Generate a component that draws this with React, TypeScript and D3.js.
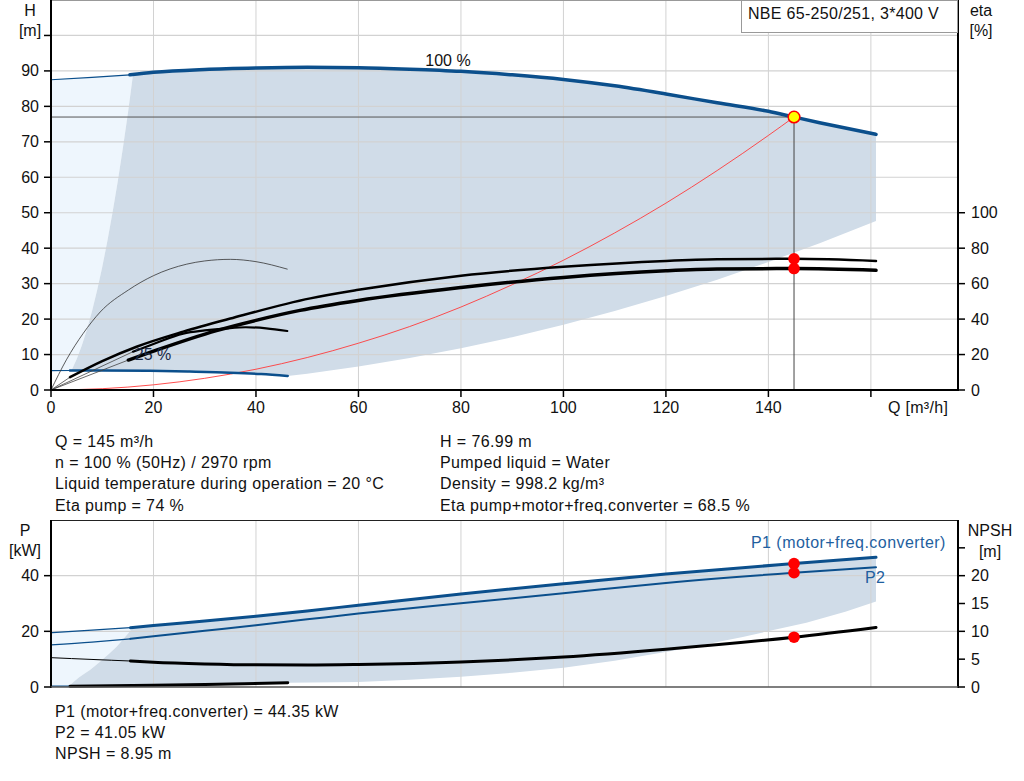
import { useEffect, useRef } from 'react';
import * as d3 from 'd3';

type Pt = [number, number];

// axis ticks
const flowTicks = [0, 20, 40, 60, 80, 100, 120, 140, 160];
const flowTickLabels = ['0', '20', '40', '60', '80', '100', '120', '140', ''];
const headTicks = [0, 10, 20, 30, 40, 50, 60, 70, 80, 90, 100];
const headTickLabels = ['0', '10', '20', '30', '40', '50', '60', '70', '80', '90', ''];
const etaTicks = [0, 20, 40, 60, 80, 100];
const powerTicks = [0, 20, 40];
const powerGrid = [20, 40];
const npshTicks = [0, 5, 10, 15, 20, 25];
const npshTickLabels = ['0', '5', '10', '15', '20', ''];

// head curves [Q m3/h, H m]
const head100Ext: Pt[] = [[0, 87.5], [8, 88.2], [15.4, 88.9]];
const head100: Pt[] = [
  [15.4, 88.9], [20, 89.6], [30, 90.4], [40, 90.8], [50, 91.0], [60, 90.9], [70, 90.5],
  [80, 89.9], [90, 88.9], [100, 87.6], [110, 85.8], [120, 83.5], [130, 81.0], [140, 78.6],
  [145, 76.99], [150, 75.4], [161, 72.1]
];
const head25Ext: Pt[] = [[0, 5.45], [3.7, 5.5]];
const head25: Pt[] = [[3.7, 5.5], [10, 5.5], [19.3, 5.4], [27, 5.2], [35, 4.9], [41, 4.5], [46.2, 3.95]];
const systemCurve: Pt[] = [
  [0, 0], [10, 0.37], [20, 1.46], [30, 3.3], [40, 5.86], [50, 9.16], [60, 13.2], [70, 17.9],
  [80, 23.4], [90, 29.7], [100, 36.6], [110, 44.3], [120, 52.7], [130, 61.9], [140, 71.8], [145, 76.99]
];
const areaLeft: Pt[] = [[4.0, 5.5], [5, 8.7], [6, 12.5], [7, 17], [8, 22.2], [9, 28.1], [10, 34.7], [11, 42], [12, 50], [13, 58.6], [14, 68], [15, 78], [16, 88.95]];
const areaLow: Pt[] = [
  [46.2, 3.95], [50, 4.6], [60, 6.6], [70, 9.0], [80, 11.8], [90, 14.9], [100, 18.4],
  [110, 22.3], [120, 26.5], [130, 31.1], [140, 36.1], [150, 41.4], [161, 47.7]
];

// efficiency curves [Q, eta %]
const etaPump100Ext: Pt[] = [[0, 0], [3.7, 7.2]];
const etaPump100: Pt[] = [
  [3.7, 7.2], [10, 16.3], [16.7, 24.4], [25.8, 32.9], [35, 40.3], [50.6, 51.7], [60, 56.5],
  [80, 64.5], [100, 69.5], [120, 72.8], [130, 73.7], [145, 74.0], [161, 72.8]
];
const etaTotal100Ext: Pt[] = [[0, 0], [15.1, 16.9]];
const etaTotal100: Pt[] = [
  [15.1, 16.9], [20, 21.9], [32.3, 33.5], [40, 39.3], [48.6, 44.9], [60, 50.5], [80, 57.8],
  [100, 63.5], [120, 67.2], [130, 68.2], [145, 68.5], [161, 67.5]
];
const etaPump25: Pt[] = [
  [0, 0], [3, 17], [6.3, 32], [9.6, 44], [15.1, 56.4], [20, 64.5], [26.5, 71], [30, 72.8],
  [35, 73.7], [40, 72.4], [46.1, 68.2]
];
const etaTotal25Ext: Pt[] = [[0, 0], [16, 21.6]];
const etaTotal25: Pt[] = [
  [16, 21.6], [20, 26], [25.8, 31.8], [30, 33.6], [34.3, 34.8], [38, 35.4], [42, 34.8], [46.1, 33.3]
];

// power curves [Q, kW] and NPSH [Q, m]
const p1Ext: Pt[] = [[0, 19.5], [8, 20.4], [15.5, 21.3]];
const p1: Pt[] = [
  [15.5, 21.3], [20, 22.1], [30, 23.7], [40, 25.4], [50, 27.3], [60, 29.4], [80, 33.4],
  [100, 37.1], [120, 40.6], [145, 44.35], [161, 46.6]
];
const p2Ext: Pt[] = [[0, 15.1], [8, 16.1], [15.5, 17.3]];
const p2: Pt[] = [
  [15.5, 17.3], [20, 18.2], [30, 20.2], [40, 22.2], [50, 24.3], [60, 26.4], [80, 30.1],
  [100, 33.7], [120, 37.4], [145, 41.05], [161, 43.0]
];
const power25Ext: Pt[] = [[0, 0.3], [3.7, 0.3]];
const power25: Pt[] = [[3.7, 0.3], [20, 0.6], [35, 1.1], [46.2, 1.5]];
const npshExt: Pt[] = [[0, 5.27], [8, 4.95], [15.5, 4.67]];
const npsh: Pt[] = [
  [15.5, 4.67], [20, 4.45], [30, 4.15], [40, 3.98], [50, 3.95], [60, 4.05], [80, 4.5],
  [100, 5.4], [120, 6.8], [145, 8.95], [161, 10.7]
];
const powerAreaLeft: Pt[] = [[3.5, 0.3], [4.5, 2.0], [5.5, 3.5], [6.5, 4.8], [7.6, 6.1], [8.5, 7.5], [9.5, 9.0], [10.5, 10.6], [11.5, 12.2], [12.8, 14.5], [14, 17.0], [15, 19.1], [16, 21.4]];
const powerAreaLow: Pt[] = [
  [46.2, 1.5], [60, 1.8], [70, 2.6], [80, 3.7], [90, 5.1], [100, 6.9], [110, 9.4],
  [122.7, 13.5], [135, 18.0], [147.4, 23.1], [155, 27.0], [161, 30.7]
];

// duty point
const dutyQ = 145;
const dutyH = 76.99;
const dutyEta = [74, 68.5];
const dutyPower = [44.35, 41.05];
const dutyNpsh = 8.95;

const infoLeft = ['Q = 145 m³/h', 'n = 100 % (50Hz) / 2970 rpm', 'Liquid temperature during operation = 20 °C', 'Eta pump = 74 %'];
const infoRight = ['H = 76.99 m', 'Pumped liquid = Water', 'Density = 998.2 kg/m³', 'Eta pump+motor+freq.converter = 68.5 %'];
const infoPower = ['P1 (motor+freq.converter) = 44.35 kW', 'P2 = 41.05 kW', 'NPSH = 8.95 m'];

const BLUE = '#0b4f8c';
const SHADE = '#d0dce8';
const LIGHT = '#eef6fd';
const GRID = '#d2d2d2';
const FONT = '"Liberation Sans", Arial, sans-serif';

export default function App() {
  const svgRef = useRef<SVGSVGElement>(null);

  useEffect(() => {
    if (!svgRef.current) return;
    const svg = d3.select(svgRef.current);
    svg.selectAll('*').remove();

    const x = d3.scaleLinear().domain([0, 177]).range([51, 958]);
    const yHead = d3.scaleLinear().domain([0, 110]).range([390, 0]);
    const yEta = d3.scaleLinear().domain([0, 220]).range([390, 0]);
    const yPower = d3.scaleLinear().domain([0, 60]).range([687, 520]);
    const yNpsh = d3.scaleLinear().domain([0, 30]).range([687, 520]);

    const lineFor = (ys: d3.ScaleLinear<number, number>) =>
      d3.line<Pt>().x((d) => x(d[0])).y((d) => ys(d[1])).curve(d3.curveMonotoneX);
    const polyFor = (ys: d3.ScaleLinear<number, number>) =>
      d3.line<Pt>().x((d) => x(d[0])).y((d) => ys(d[1]));

    const text = (tx: number, ty: number, s: string, anchor = 'start', fill = '#111', size = 16, spacing = 0) =>
      svg.append('text')
        .attr('x', tx).attr('y', ty)
        .attr('text-anchor', anchor)
        .attr('fill', fill)
        .style('font-family', FONT)
        .style('font-size', `${size}px`)
        .style('letter-spacing', `${spacing}px`)
        .text(s);

    const path = (data: Pt[], ys: d3.ScaleLinear<number, number>, stroke: string, width: number) =>
      svg.append('path')
        .attr('d', lineFor(ys)(data))
        .attr('fill', 'none')
        .attr('stroke', stroke)
        .attr('stroke-width', width)
        .attr('stroke-linecap', 'round');

    // ---------- top chart ----------
    svg.append('path')
      .attr('d', polyFor(yHead)([...head100Ext, ...areaLeft.slice().reverse(), ...head25Ext.slice().reverse()]) + 'Z')
      .attr('fill', LIGHT);
    svg.append('path')
      .attr('d', polyFor(yHead)([
        ...areaLeft,
        ...head100.filter((d) => d[0] > 16),
        ...areaLow.slice().reverse(),
        ...head25.filter((d) => d[0] > 4).reverse()
      ]) + 'Z')
      .attr('fill', SHADE);

    flowTicks.slice(1).forEach((q) => {
      svg.append('line').attr('x1', x(q)).attr('x2', x(q)).attr('y1', 0).attr('y2', 390)
        .attr('stroke', GRID).attr('stroke-width', 1);
    });
    headTicks.slice(1).forEach((h) => {
      svg.append('line').attr('x1', 51).attr('x2', 958).attr('y1', yHead(h)).attr('y2', yHead(h))
        .attr('stroke', GRID).attr('stroke-width', 1.2);
    });

    // duty lines
    svg.append('line').attr('x1', 51).attr('x2', x(dutyQ)).attr('y1', yHead(dutyH)).attr('y2', yHead(dutyH))
      .attr('stroke', '#555').attr('stroke-width', 1);
    svg.append('line').attr('x1', x(dutyQ)).attr('x2', x(dutyQ)).attr('y1', yHead(dutyH)).attr('y2', 390)
      .attr('stroke', '#444').attr('stroke-width', 1);

    path(systemCurve, yHead, '#ff3b3b', 0.9);

    path(head100Ext, yHead, BLUE, 1.2);
    path(head100, yHead, BLUE, 3.5);
    path(head25Ext, yHead, BLUE, 1.2);
    path(head25, yHead, BLUE, 2.5);

    path(etaPump25, yEta, '#333', 0.8);
    path(etaPump100Ext, yEta, '#444', 0.8);
    path(etaTotal100Ext, yEta, '#444', 0.8);
    path(etaTotal25Ext, yEta, '#444', 0.8);
    path(etaTotal25, yEta, '#000', 2.2);
    path(etaPump100, yEta, '#000', 2.5);
    path(etaTotal100, yEta, '#000', 3.5);

    text(448, 66, '100 %', 'middle', '#111');
    text(153, 360, '25 %', 'middle', '#1a2a48');

    dutyEta.forEach((e) => {
      svg.append('circle').attr('cx', x(dutyQ)).attr('cy', yEta(e)).attr('r', 5.8).attr('fill', '#ff0000');
    });
    svg.append('circle').attr('cx', x(dutyQ)).attr('cy', yHead(dutyH)).attr('r', 5.8)
      .attr('fill', '#ffff00').attr('stroke', '#ff0000').attr('stroke-width', 1.5);

    // frame and axes
    svg.append('line').attr('x1', 51).attr('x2', 958).attr('y1', 0.5).attr('y2', 0.5).attr('stroke', '#999');
    svg.append('line').attr('x1', 51).attr('x2', 51).attr('y1', 0).attr('y2', 391).attr('stroke', '#000').attr('stroke-width', 2);
    svg.append('line').attr('x1', 958).attr('x2', 958).attr('y1', 0).attr('y2', 391).attr('stroke', '#000').attr('stroke-width', 2);
    svg.append('line').attr('x1', 50).attr('x2', 959).attr('y1', 390).attr('y2', 390).attr('stroke', '#000').attr('stroke-width', 2);

    headTicks.forEach((h, i) => {
      svg.append('line').attr('x1', 44).attr('x2', 51).attr('y1', yHead(h)).attr('y2', yHead(h)).attr('stroke', '#000').attr('stroke-width', 1.5);
      if (headTickLabels[i]) text(39, yHead(h) + 5.5, headTickLabels[i], 'end');
    });
    etaTicks.forEach((e) => {
      svg.append('line').attr('x1', 958).attr('x2', 965).attr('y1', yEta(e)).attr('y2', yEta(e)).attr('stroke', '#000').attr('stroke-width', 1.5);
      text(971, yEta(e) + 5.5, String(e));
    });
    flowTicks.forEach((q, i) => {
      svg.append('line').attr('x1', x(q)).attr('x2', x(q)).attr('y1', 390).attr('y2', 397).attr('stroke', '#000').attr('stroke-width', 1.5);
      if (flowTickLabels[i]) text(x(q), 413, flowTickLabels[i], 'middle');
    });

    text(30, 16, 'H', 'middle');
    text(30, 36, '[m]', 'middle');
    text(981, 16, 'eta', 'middle');
    text(981, 36, '[%]', 'middle');
    text(888, 413, 'Q [m³/h]', 'start', '#111', 16, 0.3);

    svg.append('rect').attr('x', 741.5).attr('y', 0.5).attr('width', 216).attr('height', 32)
      .attr('fill', '#fff').attr('stroke', '#999').attr('stroke-width', 1);
    text(748, 19, 'NBE 65-250/251, 3*400 V', 'start', '#111', 16, 0.3);

    // info text
    infoLeft.forEach((s, i) => text(55, 447 + i * 21.2, s, 'start', '#111', 16, 0.4));
    infoRight.forEach((s, i) => text(440, 447 + i * 21.2, s, 'start', '#111', 16, 0.4));

    // ---------- bottom chart ----------
    svg.append('path')
      .attr('d', polyFor(yPower)([...p1Ext, ...powerAreaLeft.slice().reverse(), [0, 0.3]]) + 'Z')
      .attr('fill', LIGHT);
    svg.append('path')
      .attr('d', polyFor(yPower)([
        ...powerAreaLeft,
        ...p1.filter((d) => d[0] > 16),
        ...powerAreaLow.slice().reverse(),
        ...power25.filter((d) => d[0] > 3.5).reverse()
      ]) + 'Z')
      .attr('fill', SHADE);

    flowTicks.slice(1).forEach((q) => {
      svg.append('line').attr('x1', x(q)).attr('x2', x(q)).attr('y1', 520).attr('y2', 687)
        .attr('stroke', GRID).attr('stroke-width', 1);
    });
    powerGrid.forEach((p) => {
      svg.append('line').attr('x1', 51).attr('x2', 958).attr('y1', yPower(p)).attr('y2', yPower(p))
        .attr('stroke', GRID).attr('stroke-width', 1.2);
    });

    path(p1Ext, yPower, BLUE, 1.2);
    path(p1, yPower, BLUE, 3);
    path(p2Ext, yPower, BLUE, 1.2);
    path(p2, yPower, BLUE, 2);
    path(npshExt, yNpsh, '#000', 1);
    path(npsh, yNpsh, '#000', 3);
    path(power25Ext, yPower, BLUE, 1.2);
    path(power25, yPower, '#000', 3);

    dutyPower.forEach((p) => {
      svg.append('circle').attr('cx', x(dutyQ)).attr('cy', yPower(p)).attr('r', 5.8).attr('fill', '#ff0000');
    });
    svg.append('circle').attr('cx', x(dutyQ)).attr('cy', yNpsh(dutyNpsh)).attr('r', 5.8).attr('fill', '#ff0000');

    text(751, 548, 'P1 (motor+freq.converter)', 'start', '#1f5f9f', 16, 0.45);
    text(865, 583, 'P2', 'start', '#1f5f9f', 16, 0.3);

    svg.append('line').attr('x1', 51).attr('x2', 958).attr('y1', 520.5).attr('y2', 520.5).attr('stroke', '#222');
    svg.append('line').attr('x1', 51).attr('x2', 51).attr('y1', 520).attr('y2', 688).attr('stroke', '#000').attr('stroke-width', 2);
    svg.append('line').attr('x1', 958).attr('x2', 958).attr('y1', 520).attr('y2', 688).attr('stroke', '#000').attr('stroke-width', 2);
    svg.append('line').attr('x1', 50).attr('x2', 959).attr('y1', 687).attr('y2', 687).attr('stroke', '#555').attr('stroke-width', 1.5);

    powerTicks.forEach((p) => {
      svg.append('line').attr('x1', 44).attr('x2', 51).attr('y1', yPower(p)).attr('y2', yPower(p)).attr('stroke', '#000').attr('stroke-width', 1.5);
      text(39, yPower(p) + 5.5, String(p), 'end');
    });
    npshTicks.forEach((n, i) => {
      svg.append('line').attr('x1', 958).attr('x2', 965).attr('y1', yNpsh(n)).attr('y2', yNpsh(n)).attr('stroke', '#000').attr('stroke-width', 1.5);
      if (npshTickLabels[i]) text(971, yNpsh(n) + 5.5, npshTickLabels[i]);
    });

    text(25, 536, 'P', 'middle');
    text(25, 556, '[kW]', 'middle');
    text(990, 536, 'NPSH', 'middle');
    text(990, 557, '[m]', 'middle');

    infoPower.forEach((s, i) => text(55, 717 + i * 21, s, 'start', '#111', 16, 0.4));
  }, []);

  return (
    <svg
      ref={svgRef}
      width={1024}
      height={781}
      style={{ position: 'absolute', left: 0, top: 0, background: '#fff' }}
    ></svg>
  );
}
